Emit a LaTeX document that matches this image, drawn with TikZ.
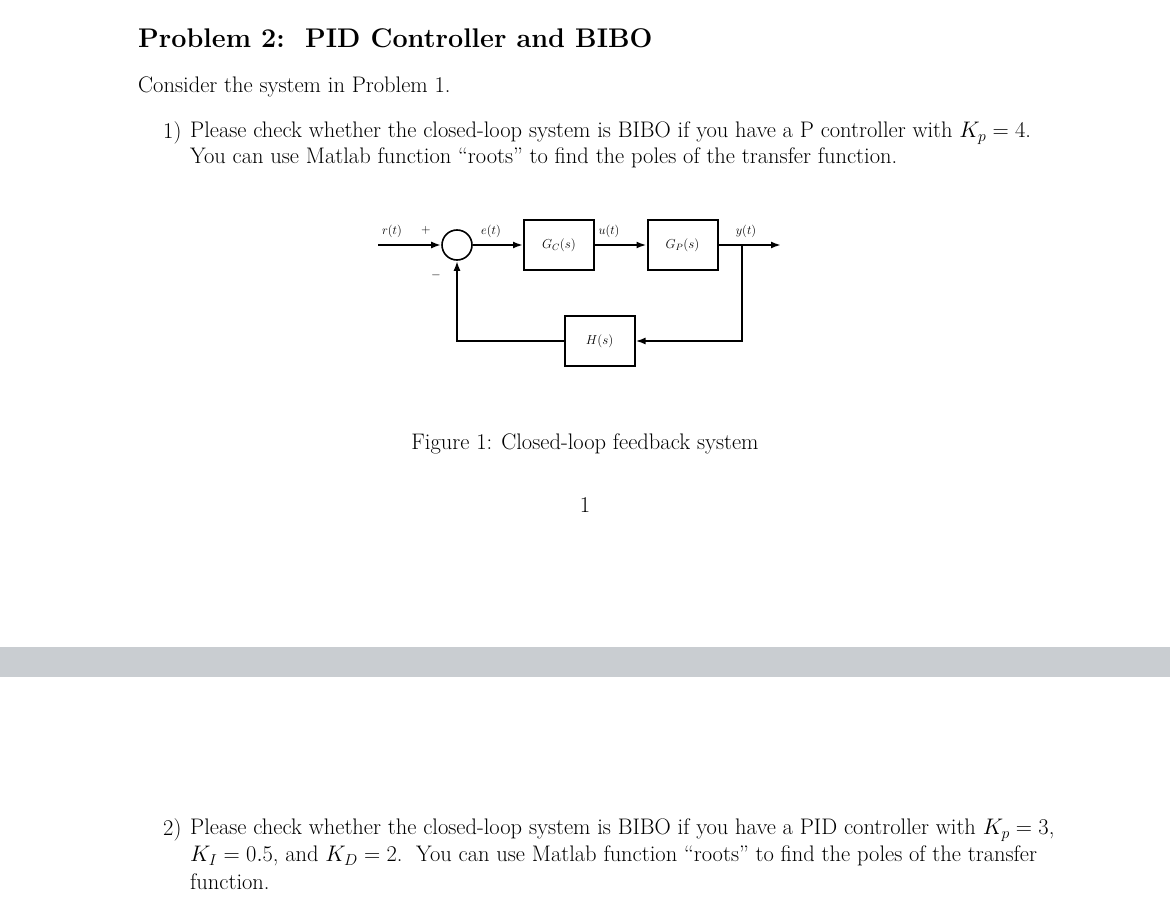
\RequirePackage{fix-cm}
\documentclass[tikz,border=0pt]{standalone}
\usetikzlibrary{arrows.meta}
\definecolor{band}{HTML}{C9CDD1}
\begin{document}
\begin{tikzpicture}[x=1pt,y=-1pt,
  txt/.style={anchor=west,inner sep=0pt,font=\fontsize{22.5}{28}\selectfont},
  blk/.style={draw,line width=2pt,minimum width=70pt,minimum height=50pt,inner sep=0pt,font=\fontsize{13}{15}\selectfont},
  lab/.style={inner sep=0pt,font=\fontsize{12.5}{15}\selectfont},
  sig/.style={line width=2.2pt,-{Latex[length=10pt,width=7pt]}}]
\useasboundingbox (0,0) rectangle (1170,912);
\fill[white] (0,0) rectangle (1170,912);
\fill[band] (0,647) rectangle (1170,677);
\node[txt,font=\bfseries\fontsize{27}{32}\selectfont] (title) at (138,38) {Problem 2:\ \ PID Controller and BIBO};
\node[txt] (intro) at (138,87) {Consider the system in Problem 1.};
\node[txt] (n1) at (163,133) {1)};
\node[txt] (l1a) at (190,133) {Please check whether the closed-loop system is BIBO if you have a P controller with $K_p=4$.};
\node[txt] (l1b) at (190,158) {You can use Matlab function ``roots'' to find the poles of the transfer function.};
% diagram
\node[draw,circle,line width=1.6pt,minimum size=30pt,inner sep=0pt] (sum) at (457,245) {};
\node[blk] (gc) at (559,245) {$G_C(s)$};
\node[blk] (gp) at (682.5,245) {$G_P(s)$};
\node[blk] (h) at (599.5,341) {$H(s)$};
\coordinate (in) at (378,245);
\coordinate (out) at (781,245);
\coordinate (br) at (742,245);
\draw[sig] (in) -- (sum.west);
\draw[sig] (sum.east) -- (gc.west);
\draw[sig] (gc.east) -- (gp.west);
\draw[sig] (gp.east) -- (out);
\draw[sig] (br) |- (h.east);
\draw[sig] (h.west) -| (sum.south);
\node[lab] (rl) at (392,231) {$r(t)$};
\node[lab] (pl) at (426,230) {$+$};
\node[lab] (el) at (491,231) {$e(t)$};
\node[lab] (ul) at (609,231) {$u(t)$};
\node[lab] (yl) at (746,231) {$y(t)$};
\node[lab] (ml) at (436,275) {$-$};
\node[txt,anchor=center] (cap) at (585,444) {Figure 1: Closed-loop feedback system};
\node[txt,anchor=center] (pg) at (585,505) {1};
\node[txt] (n2) at (163,830) {2)};
\node[txt] (l2a) at (190,830) {Please check whether the closed-loop system is BIBO if you have a PID controller with $K_p=3$,};
\node[txt] (l2b) at (190,856) {$K_I=0.5$, and $K_D=2$.\ \ You can use Matlab function ``roots'' to find the poles of the transfer};
\node[txt] (l2c) at (190,882) {function.};
\end{tikzpicture}
\end{document}
